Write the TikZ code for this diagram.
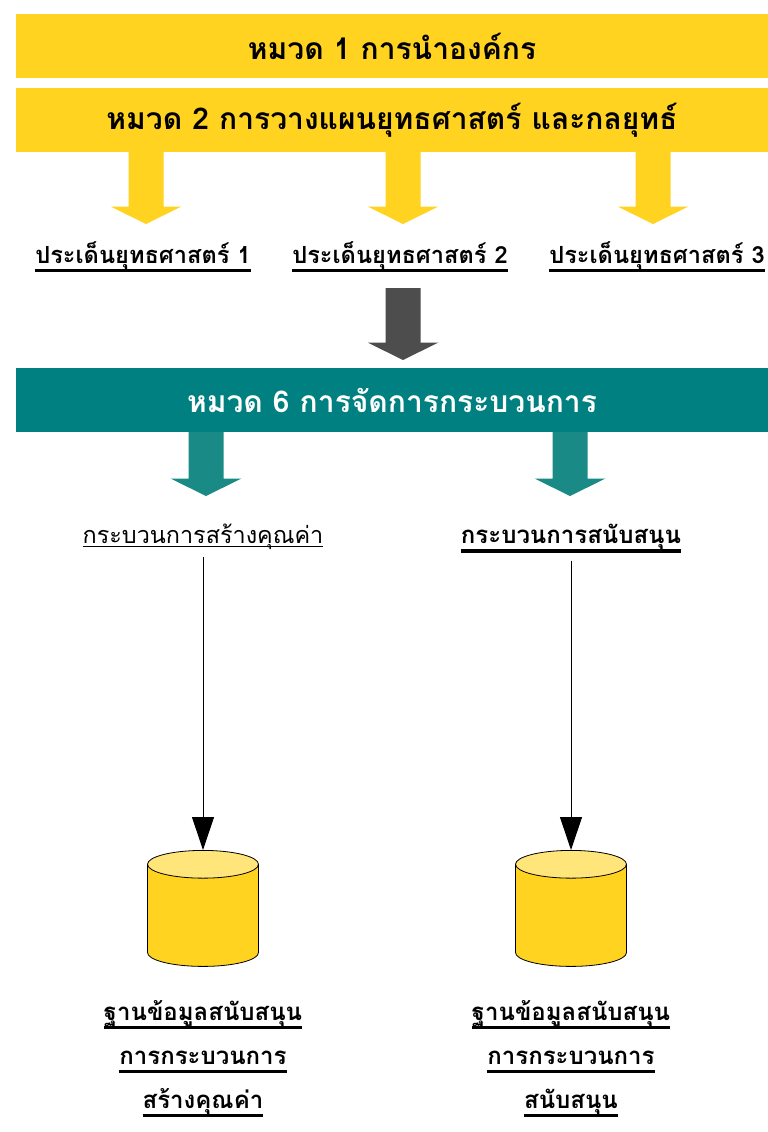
\documentclass[tikz,border=0pt]{standalone}
\usepackage{fontspec}
\newfontfamily\thaifont[Script=Thai]{Loma}
\usetikzlibrary{shapes.geometric,arrows.meta}
\definecolor{ylw}{HTML}{FFD320}
\definecolor{ylwlight}{HTML}{FFE57A}
\definecolor{tealdark}{HTML}{008080}
\definecolor{teallight}{HTML}{1A8A86}
\definecolor{greyarrow}{HTML}{4D4D4D}
% underline bar: top below baseline, bottom below baseline, text
\newcommand{\ulbar}[3]{\setbox0=\hbox{#3}\rlap{\vrule height -#1 depth #2 width \wd0}\box0}
\tikzset{
  pics/downarrow/.style={code={
    \fill (-17.5,0) -- (-17.5,#1-17.5) -- (-35.5,#1-17.5) -- (0,#1)
      -- (35.5,#1-17.5) -- (17.5,#1-17.5) -- (17.5,0) -- cycle;
  }},
}
\begin{document}
\begin{tikzpicture}[x=1pt,y=-1pt,
    banner/.style={fill=ylw, minimum width=752, minimum height=64, inner sep=0,
      font=\thaifont\bfseries\fontsize{30}{36}\selectfont},
    issue/.style={anchor=base, inner sep=0, font=\thaifont\bfseries\fontsize{23.6}{28}\selectfont},
    proc/.style={anchor=base, inner sep=0, font=\thaifont\bfseries\fontsize{24}{28}\selectfont},
    dbase/.style={cylinder, shape border rotate=90, draw, line width=0.8, anchor=north,
      minimum width=111, minimum height=116, aspect=0.25, inner xsep=55.5, inner ysep=0,
      cylinder uses custom fill, cylinder body fill=ylw, cylinder end fill=ylwlight},
    dbtext/.style={anchor=base, inner sep=0, align=center,
      font=\thaifont\bfseries\fontsize{24}{44}\selectfont},
    conn/.style={-{Triangle[width=22pt,length=33pt]}, line width=1, black, shorten <=8}]
  \useasboundingbox (0,0) rectangle (768,1132);
  \node[banner] (cat1) at (392,46) {หมวด 1 การนำองค์กร};
  \node[banner] (cat2) at (392,120) {หมวด 2 การวางแผนยุทธศาสตร์ และกลยุทธ์};
  \foreach \x in {146,403,653}
    \pic[fill=ylw] at (\x,152) {downarrow=72};
  \node[issue] (is1) at (143,263) {\ulbar{6pt}{8.5pt}{ประเด็นยุทธศาสตร์ 1}};
  \node[issue] (is2) at (400,263) {\ulbar{6pt}{8.5pt}{ประเด็นยุทธศาสตร์ 2}};
  \node[issue] (is3) at (657,263) {\ulbar{6pt}{8.5pt}{ประเด็นยุทธศาสตร์ 3}};
  \pic[fill=greyarrow] at (403,288) {downarrow=72};
  \node[banner, fill=tealdark, text=white] (cat6) at (392,400) {หมวด 6 การจัดการกระบวนการ};
  \foreach \x in {206,570}
    \pic[fill=teallight] at (\x,432) {downarrow=64};
  \node[proc, font=\thaifont\fontsize{23.4}{28}\selectfont] (vc) at (203,543)
    {\ulbar{3pt}{4pt}{กระบวนการสร้างคุณค่า}};
  \node[proc] (sp) at (571,543) {\ulbar{6pt}{9.5pt}{กระบวนการสนับสนุน}};
  \node[dbase] (db1) at (203,850) {};
  \node[dbase] (db2) at (571,850) {};
  \draw[conn] (vc) -- (db1);
  \draw[conn] (sp) -- (db2);
  \node[dbtext] (dt1) at (203,1108) {\ulbar{6pt}{9pt}{ฐานข้อมูลสนับสนุน}\\
    \ulbar{6pt}{9pt}{การกระบวนการ}\\ \ulbar{6pt}{9pt}{สร้างคุณค่า}};
  \node[dbtext] (dt2) at (571,1108) {\ulbar{6pt}{9pt}{ฐานข้อมูลสนับสนุน}\\
    \ulbar{6pt}{9pt}{การกระบวนการ}\\ \ulbar{6pt}{9pt}{สนับสนุน}};
\end{tikzpicture}
\end{document}
